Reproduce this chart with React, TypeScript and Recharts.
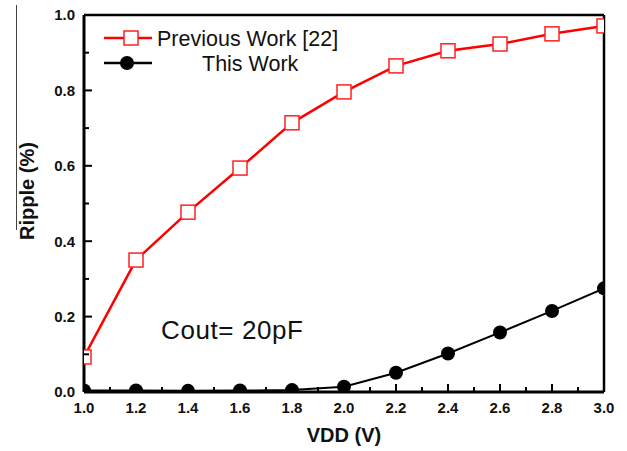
import { LineChart, Line, XAxis, YAxis, ReferenceLine, Legend } from "recharts";

const vdd = [1.0, 1.2, 1.4, 1.6, 1.8, 2.0, 2.2, 2.4, 2.6, 2.8, 3.0];
const previousWork = [0.093, 0.35, 0.477, 0.594, 0.714, 0.796, 0.865, 0.905, 0.923, 0.95, 0.971];
const thisWork = [0.004, 0.004, 0.003, 0.004, 0.005, 0.014, 0.051, 0.102, 0.158, 0.215, 0.275];
const xTicks = [1.0, 1.1, 1.2, 1.3, 1.4, 1.5, 1.6, 1.7, 1.8, 1.9, 2.0, 2.1, 2.2, 2.3, 2.4, 2.5, 2.6, 2.7, 2.8, 2.9, 3.0];
const yTicks = [0, 0.1, 0.2, 0.3, 0.4, 0.5, 0.6, 0.7, 0.8, 0.9, 1.0];

const data = vdd.map((v, i) => ({ vdd: v, prev: previousWork[i], mine: thisWork[i] }));

const FONT = "'Liberation Sans', Arial, sans-serif";
const TICK_GAP = 4;

const isMajor = (v: number) => Math.round(v * 10) % 2 === 0;

function XTick(props: any) {
  const { x, y, payload } = props;
  const v = payload.value as number;
  const axisY = y - TICK_GAP;
  const major = isMajor(v);
  return (
    <g>
      <line x1={x} x2={x} y1={axisY} y2={axisY - (major ? 8 : 5)} stroke="#000" strokeWidth={2} />
      {major && (
        <text x={x} y={axisY + 16} dy="0.36em" textAnchor="middle" fontFamily={FONT} fontWeight="bold" fontSize={15} fill="#111">
          {v.toFixed(1)}
        </text>
      )}
    </g>
  );
}

function YTick(props: any) {
  const { x, y, payload } = props;
  const v = payload.value as number;
  const axisX = x + TICK_GAP;
  const major = isMajor(v);
  return (
    <g>
      <line x1={axisX} x2={axisX + (major ? 8 : 5)} y1={y} y2={y} stroke="#000" strokeWidth={2} />
      {major && (
        <text x={axisX - 9} y={y} dy="0.36em" textAnchor="end" fontFamily={FONT} fontWeight="bold" fontSize={15} fill="#111">
          {v.toFixed(1)}
        </text>
      )}
    </g>
  );
}

function SquareDot(props: any) {
  const { cx, cy, index } = props;
  return <rect key={`sq-${index}`} x={cx - 7} y={cy - 7} width={14} height={14} fill="#fff" stroke="#ff2020" strokeWidth={1.5} />;
}

function RippleLabel() {
  return (
    <text x={27} y={191} dy="0.36em" transform="rotate(-90, 27, 191)" textAnchor="middle" fontFamily={FONT} fontWeight="bold" fontSize={20} fill="#111">
      Ripple (%)
    </text>
  );
}

function LegendBox() {
  return (
    <svg width={300} height={60} style={{ display: "block", overflow: "visible" }}>
      <line x1={4} x2={52} y1={14} y2={14} stroke="#ff0000" strokeWidth={2.5} />
      <rect x={24} y={7} width={14} height={14} fill="#fff" stroke="#ff2020" strokeWidth={1.5} />
      <text x={57} y={14} dy="0.36em" fontFamily={FONT} fontSize={21.5} fill="#111">Previous Work [22]</text>
      <line x1={4} x2={52} y1={39} y2={39} stroke="#000" strokeWidth={2.5} />
      <circle cx={27} cy={39} r={7} fill="#000" />
      <text x={102} y={39} dy="0.36em" fontFamily={FONT} fontSize={21.5} fill="#111">This Work</text>
    </svg>
  );
}

export default function App() {
  return (
    <div style={{ position: "absolute", left: 0, top: 0, width: 627, height: 451, background: "#fff" }}>
      <div style={{ position: "absolute", left: 16, top: 5, width: 1, height: 225, background: "#444" }} />
      <LineChart width={627} height={451} data={data} margin={{ top: 15, right: 23, bottom: 0, left: 0 }}>
        <XAxis
          dataKey="vdd"
          type="number"
          domain={[1, 3]}
          ticks={xTicks}
          allowDataOverflow
          height={59}
          tickSize={0}
          tickMargin={TICK_GAP}
          tick={<XTick />}
          interval={0}
          axisLine={{ stroke: "#000", strokeWidth: 3 }}
          tickLine={false}
          label={{ value: "VDD (V)", position: "insideBottom", offset: 9, fontFamily: FONT, fontWeight: "bold", fontSize: 20, fill: "#111" }}
        />
        <YAxis
          type="number"
          domain={[0, 1]}
          ticks={yTicks}
          allowDataOverflow
          width={84}
          tickSize={0}
          tickMargin={TICK_GAP}
          tick={<YTick />}
          interval={0}
          axisLine={{ stroke: "#000", strokeWidth: 3 }}
          tickLine={false}
          label={<RippleLabel />}
        />
        <ReferenceLine y={1} stroke="#000" strokeWidth={2.5} />
        <ReferenceLine x={3} stroke="#000" strokeWidth={2.5} />
        <Line
          dataKey="prev"
          stroke="#ff0000"
          strokeWidth={2.5}
          dot={<SquareDot />}
          isAnimationActive={false}
        />
        <Line
          dataKey="mine"
          stroke="#000"
          strokeWidth={2}
          dot={{ r: 7, fill: "#000", stroke: "#000", strokeWidth: 0 }}
          isAnimationActive={false}
        />
        <Legend
          layout="vertical"
          align="center"
          verticalAlign="middle"
          content={() => <LegendBox />}
          wrapperStyle={{ left: 100, top: 24, width: 300, height: 60 }}
        />
      </LineChart>
      <div style={{ position: "absolute", left: 161, top: 316, fontFamily: FONT, fontSize: 26, letterSpacing: 0.6, color: "#111", lineHeight: "28px", whiteSpace: "nowrap" }}>
        Cout= 20pF
      </div>
    </div>
  );
}
